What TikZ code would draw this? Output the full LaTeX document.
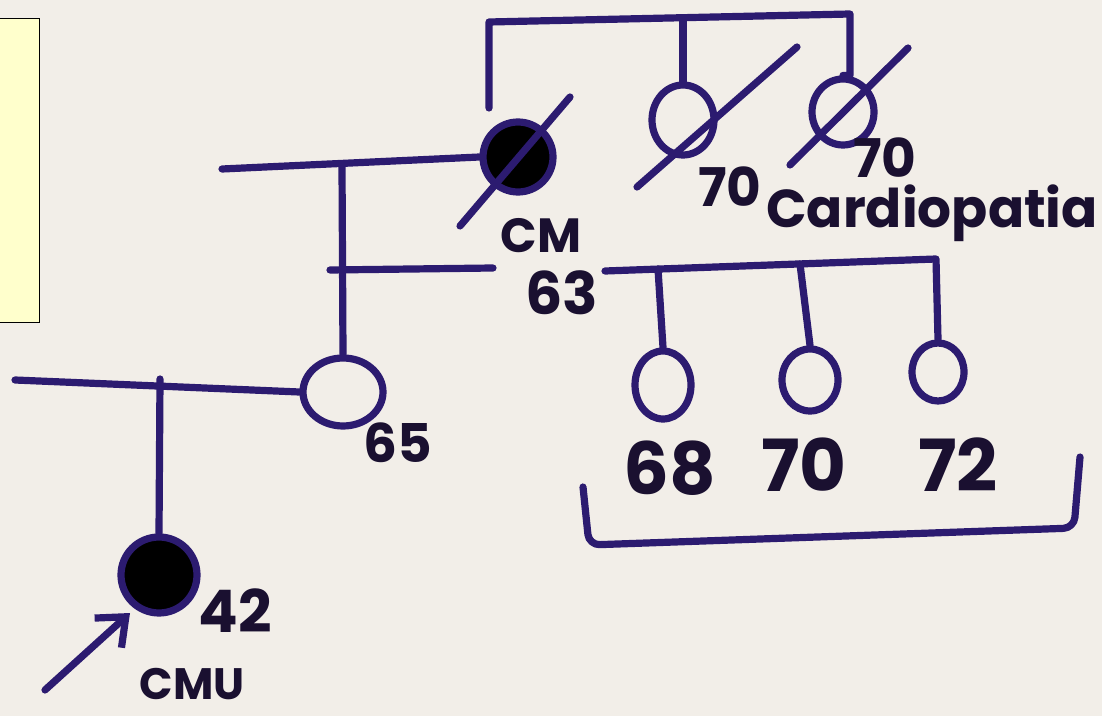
\documentclass[tikz,border=0pt]{standalone}
\usepackage{fontspec}
\setmainfont{Poppins}
\usetikzlibrary{shapes.geometric,arrows.meta}
\definecolor{paper}{HTML}{F2EEE8}
\definecolor{ink}{HTML}{2C1B70}
\definecolor{txt}{HTML}{1A1030}
\definecolor{note}{HTML}{FFFFCC}
\tikzset{
  pen/.style={draw=ink, line width=5.4pt, line cap=round, line join=round},
  slash/.style={draw=ink, line width=5.4pt, line cap=round},
  person/.style={ellipse, pen, inner sep=0pt},
  affected/.style={person, fill=black},
  lbl/.style={text=txt, inner sep=0pt, font=\bfseries\fontsize{#1}{#1}\selectfont},
}
\begin{document}
\begin{tikzpicture}[x=0.75pt,y=-0.75pt]
\fill[paper] (0,0) rectangle (1102,716);
\useasboundingbox (0,0) rectangle (1102,716);
\node[draw=black, line width=1pt, fill=note, minimum width=50pt, minimum height=228pt, inner sep=0pt, anchor=north east] (box) at (40,18) {};

% persons
\node[affected, minimum width=70pt*0.75, minimum height=70pt*0.75] (cm) at (518,157) {};
\node[person, minimum width=62pt*0.75, minimum height=70pt*0.75] (d1) at (683,120) {};
\node[person, minimum width=62pt*0.75, minimum height=66pt*0.75] (d2) at (843,112) {};
\node[person, minimum width=80pt*0.75, minimum height=68pt*0.75] (p65) at (343,392) {};
\node[affected, minimum width=76pt*0.75, minimum height=76pt*0.75] (cmu) at (159,575) {};
\node[person, minimum width=56pt*0.75, minimum height=68pt*0.75] (k1) at (663,385) {};
\node[person, minimum width=56pt*0.75, minimum height=62pt*0.75] (k2) at (810,380) {};
\node[person, minimum width=52pt*0.75, minimum height=58pt*0.75] (k3) at (938,372) {};

% top sibship
\coordinate (tl) at (489,108);
\coordinate (tc) at (489,22);
\coordinate (tr) at (850,14);
\coordinate (tm) at (683,18);
\draw[pen] (tl) -- (tc) -- (tr) -- (tr |- d2.north) -- (d2.north);
\draw[pen] (tm) -- (d1.north);

% marriage CM
\coordinate (m1) at (222,169);
\coordinate (m1d) at (342,167);
\draw[pen] (m1) -- (cm.west);
\draw[pen] (m1d) -- (p65.north);
\coordinate (s1) at (330,270);
\coordinate (s2) at (493,268);
\draw[pen] (s1) -- (s2);

% lower sibship
\coordinate (l1) at (605,271);
\coordinate (l3) at (936,259);
\coordinate (l1d) at (658,269);
\coordinate (l2d) at (800,264);
\draw[pen] (l1) -- (l3) -- (k3.north);
\draw[pen] (l1d) -- (k1.north);
\draw[pen] (l2d) -- (k2.north);

% marriage 65
\coordinate (m2) at (15,380);
\coordinate (m2d) at (160,379);
\draw[pen] (m2) -- (p65.west);
\draw[pen] (m2d) -- (cmu.north);

% slashes
\draw[slash] (460,226) -- (570,97);
\draw[slash] (637,187) -- (797,47);
\draw[slash] (790,165) -- (908,48);

% bracket
\draw[pen, rounded corners=8pt] (583,487) -- (589,545) -- (1074,528) -- (1080,457);

% arrow
\coordinate (ar) at (45,690);
\draw[pen, -{Straight Barb[length=18pt, width=30pt, line width=5.4pt]}] (ar) -- (130,613);

% labels
\node[lbl=36pt] (lcm) at (541,236) {CM};
\node[lbl=44pt] (l63) at (562,293) {63};
\node[lbl=40pt] (l70a) at (730,187) {70};
\node[lbl=40pt] (l70b) at (885,158) {70};
\node[lbl=40pt] (lcar) at (932,213) {Cardiopatia};
\node[lbl=40pt] (l65) at (398,443) {65};
\node[lbl=54pt] (l68) at (670,468) {68};
\node[lbl=54pt] (l70) at (804,465) {70};
\node[lbl=54pt] (l72) at (958,465) {72};
\node[lbl=44pt] (l42) at (235,611) {42};
\node[lbl=33pt] (lcmu) at (192,684) {CMU};
\end{tikzpicture}
\end{document}
